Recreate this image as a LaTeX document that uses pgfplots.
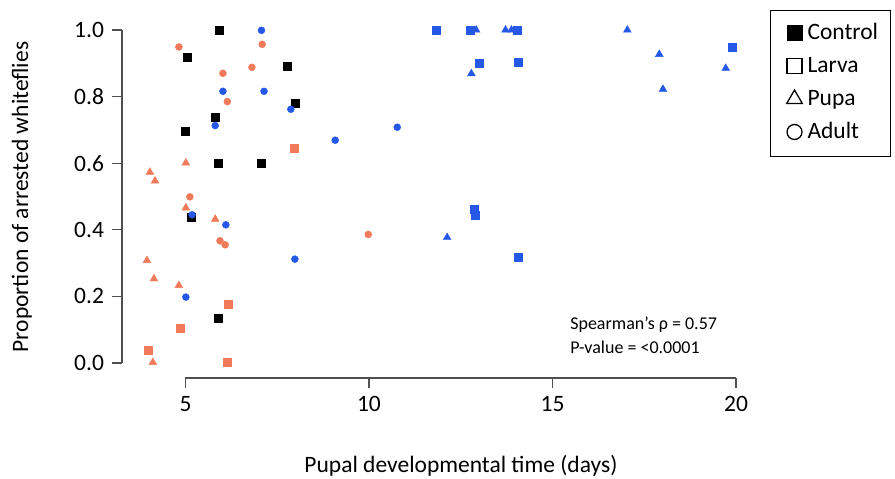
\documentclass[border=0pt]{standalone}
\usepackage{fontspec}
\setmainfont{Carlito}
\usepackage{pgfplots}
\pgfplotsset{compat=1.18}
\definecolor{myorange}{RGB}{240,122,90}
\definecolor{myblue}{RGB}{38,88,232}
\definecolor{axgray}{RGB}{80,80,80}
\begin{document}
\fontsize{23.5}{28}\selectfont
\begin{tikzpicture}[x=1pt,y=1pt]
\path[use as bounding box] (-122,-101) rectangle (773,378);
\begin{axis}[
  at={(0,0)}, anchor=south west,
  scale only axis, width=614pt, height=348pt,
  xmin=3.27, xmax=20, ymin=-0.045, ymax=1.0,
  clip=false,
  axis line style={draw=none},
  xtick={5,10,15,20}, ytick={0,0.2,0.4,0.6,0.8,1.0},
  xtick pos=bottom, ytick pos=left,
  tick align=outside, major tick length=10pt,
  tick style={axgray, line width=1.2pt},
  /pgf/number format/assume math mode=true,
  yticklabel style={/pgf/number format/.cd, fixed, fixed zerofill, precision=1},
  ticklabel style={font=\fontsize{23.5}{28}\selectfont},
  xlabel={Pupal developmental time (days)},
  ylabel={Proportion of arrested whiteflies},
  xlabel style={at={(axis description cs:0.552,-0.253)}, anchor=center, font=\fontsize{23.5}{28}\selectfont},
  ylabel style={at={(axis description cs:-0.163,0.52)}, anchor=center, rotate=0, font=\fontsize{23.5}{28}\selectfont},
  legend style={at={(1.0554,1.0575)}, anchor=north west, draw=black, line width=1pt,
     inner xsep=10pt, inner ysep=11pt, row sep=8pt, cells={anchor=west},
     nodes={inner sep=2pt, text height=16pt, text depth=5pt},
     font=\fontsize{23.5}{28}\selectfont},
  legend image code/.code={\path[draw=none] (0pt,0pt) -- (25pt,0pt); \path[#1] plot[only marks] coordinates {(14pt,1pt)};},
]
\draw[axgray, line width=1.2pt] (axis cs:5,-0.045) -- (axis cs:20,-0.045);
\draw[axgray, line width=1.2pt] (axis cs:3.27,0) -- (axis cs:3.27,1);

% Control (black squares)
\addplot[only marks, mark=square*, mark size=4pt, color=black, forget plot] coordinates {
(5.91,1.0) (5.05,0.918) (7.77,0.890) (7.98,0.779) (5.81,0.738) (4.99,0.697)
(5.88,0.601) (7.06,0.601) (5.16,0.439) (5.88,0.136)};

% orange squares
\addplot[only marks, mark=square*, mark size=4pt, color=myorange, forget plot] coordinates {
(7.95,0.645) (6.16,0.177) (4.85,0.106) (3.98,0.038) (6.13,0.002)};
% orange triangles
\addplot[only marks, mark=triangle*, mark size=4.5pt, color=myorange, forget plot] coordinates {
(5.01,0.601) (4.03,0.573) (4.17,0.547) (5.01,0.466) (5.81,0.432) (3.95,0.308)
(4.14,0.253) (4.82,0.233) (4.11,0.002)};
% orange circles
\addplot[only marks, mark=*, mark size=3.5pt, color=myorange, forget plot] coordinates {
(4.82,0.949) (7.09,0.957) (6.02,0.870) (6.81,0.888) (6.14,0.785) (5.12,0.499)
(5.94,0.367) (6.08,0.355) (9.98,0.386)};

% blue squares
\addplot[only marks, mark=square*, mark size=4pt, color=myblue, forget plot] coordinates {
(11.82,1.0) (12.75,1.0) (14.03,1.0) (19.91,0.948) (13.01,0.900) (14.07,0.902)
(12.86,0.463) (12.90,0.445) (14.07,0.319)};
% blue triangles
\addplot[only marks, mark=triangle*, mark size=4.5pt, color=myblue, forget plot] coordinates {
(12.92,1.0) (13.72,1.0) (13.88,1.0) (17.04,1.0) (17.91,0.927) (19.72,0.885)
(12.79,0.869) (18.01,0.822) (12.13,0.377)};
% blue circles
\addplot[only marks, mark=*, mark size=3.5pt, color=myblue, forget plot] coordinates {
(7.07,0.999) (6.02,0.816) (7.14,0.816) (7.87,0.762) (5.81,0.713) (9.08,0.669)
(10.77,0.708) (5.18,0.445) (6.10,0.415) (7.98,0.312) (5.01,0.198)};

% legend
\addlegendimage{only marks, mark=square*, mark size=7.5pt, black}
\addlegendentry{Control}
\addlegendimage{only marks, mark=square, mark size=7.5pt, black, mark options={line width=1.3pt}}
\addlegendentry{Larva}
\addlegendimage{only marks, mark=triangle, mark size=9pt, black, mark options={line width=1.3pt}}
\addlegendentry{Pupa}
\addlegendimage{only marks, mark=o, mark size=7.5pt, black, mark options={line width=1.3pt}}
\addlegendentry{Adult}

\node[anchor=west, font=\fontsize{18}{22}\selectfont, inner sep=0pt] at (axis cs:15.48,0.114) {Spearman’s ρ = 0.57};
\node[anchor=west, font=\fontsize{18}{22}\selectfont, inner sep=0pt] at (axis cs:15.48,0.048) {P-value = <0.0001};
\end{axis}
\end{tikzpicture}
\end{document}
